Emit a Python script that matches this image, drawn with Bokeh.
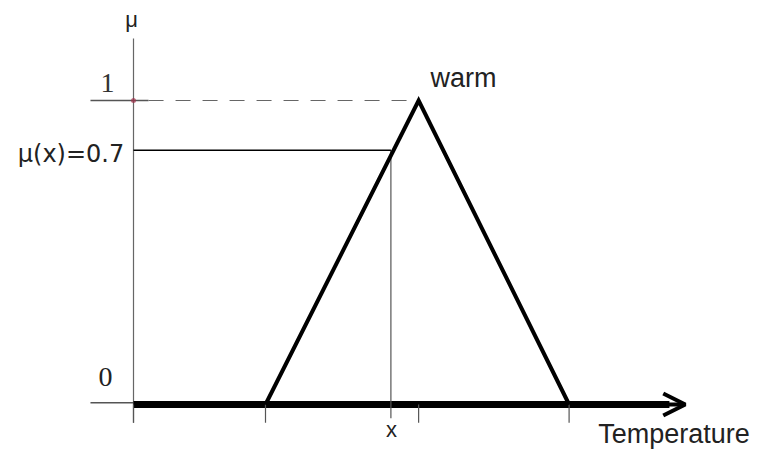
from bokeh.plotting import figure
from bokeh.models import Range1d, Arrow, OpenHead
from bokeh.core.properties import value
from bokeh.embed import file_html
from bokeh.resources import INLINE

# ---- chart data (temperature units, membership mu) ----
temp_ticks = [0, 10, 21.6, 33]          # tick marks under the temperature axis
tri_x = [10, 21.6, 33]                  # triangular membership function "warm"
tri_mu = [0, 1, 0]
x_value = 19.5                          # the crisp input x
mu_x_drawn = 0.836                      # height where the x line meets the triangle
mu_label = "μ(x)=0.7"
set_label = "warm"
axis_label = "Temperature"
y_label = "μ"
axis_end = 41.8

sans = value("Liberation Sans")
serif = value("Liberation Serif")

p = figure(width=761, height=449, output_backend="svg", toolbar_location=None,
           x_range=Range1d(-10.076, 47.576), y_range=Range1d(-0.148, 1.3289),
           min_border=0, outline_line_color=None)
p.axis.visible = False
p.grid.visible = False
p.background_fill_color = "white"
p.border_fill_color = "white"

# vertical mu axis
p.line([0, 0], [-0.06, 1.204], line_color="#666666", line_width=1.2)
# short tick lines for 1 and 0 at the left
p.line([-3.26, 1.14], [1, 1], line_color="#555555", line_width=1.5)
p.line([-3.26, 0], [0.006, 0.006], line_color="#555555", line_width=1.5)
# dashed line at mu = 1 up to the peak
p.line([1.14, tri_x[1]], [1, 1], line_color="#666666", line_width=1.2, line_dash="15 12")
# red dot at (0,1)
p.scatter([0], [1], size=5, fill_color="#a0304a", line_color=None, alpha=0.7)

# temperature axis (thick) with arrow
p.line([0, axis_end - 1.2], [0, 0], line_color="black", line_width=7)
p.add_layout(Arrow(end=OpenHead(size=22, line_width=4, line_color="black"),
                   x_start=axis_end - 1.5, y_start=0, x_end=axis_end, y_end=0,
                   line_width=4, line_color="black"))

# ticks under the axis
for t in temp_ticks:
    p.line([t, t], [0, -0.06], line_color="#555555", line_width=1.2)

# x marker and mu(x) line
p.line([x_value, x_value], [mu_x_drawn, -0.045], line_color="#555555", line_width=1.2)
p.line([0, x_value], [mu_x_drawn, mu_x_drawn], line_color="black", line_width=1.5)

# triangle
p.line(tri_x, tri_mu, line_color="black", line_width=4, line_join="miter")

# labels
p.text([-0.15], [1.266], text=[y_label], text_font=sans, text_font_size="22px",
       text_align="center", text_baseline="middle", text_color="#222222")
p.text([-1.97], [1.0576], text=["1"], text_font=serif, text_font_size="28px",
       text_align="center", text_baseline="middle", text_color="#333333")
p.text([-2.12], [0.0905], text=["0"], text_font=serif, text_font_size="28px",
       text_align="center", text_baseline="middle", text_color="#222222")
p.text([-0.7], [0.824], text=[mu_label], text_font=value("DejaVu Sans"), text_font_size="24px",
       text_align="right", text_baseline="middle", text_color="#222222")
p.text([22.5], [1.0724], text=[set_label], text_font=sans, text_font_size="27px",
       text_align="left", text_baseline="middle", text_color="#222222")
p.text([x_value + 0.05], [-0.0822], text=["x"], text_font=sans, text_font_size="22px",
       text_align="center", text_baseline="middle", text_color="#222222")
p.text([35.2], [-0.0954], text=[axis_label], text_font=sans, text_font_size="27px",
       text_align="left", text_baseline="middle", text_color="#222222")

open("out.html", "w").write(file_html(p, INLINE))
